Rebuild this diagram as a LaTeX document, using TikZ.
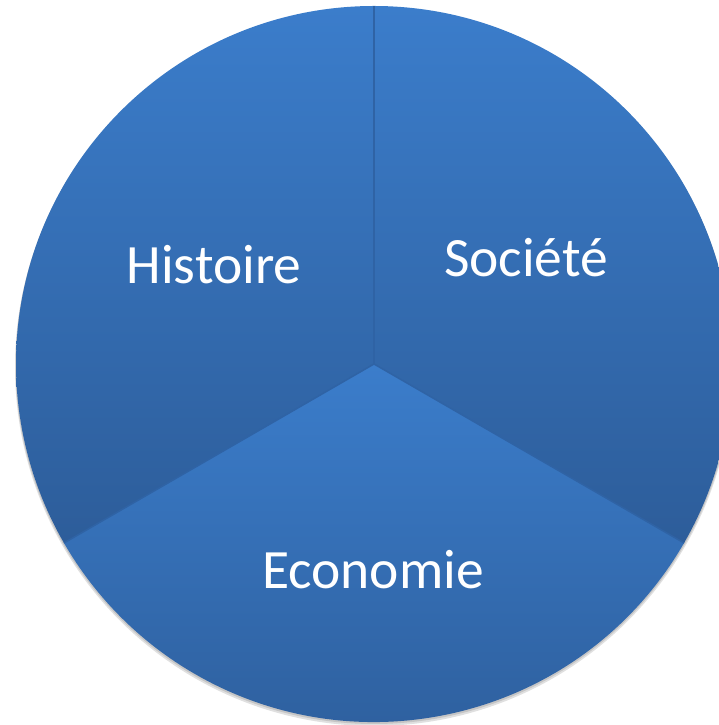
\documentclass[tikz,border=0pt]{standalone}
\usepackage{fontspec}
\setmainfont{Carlito}
\usepackage{tikz}
\usetikzlibrary{calc}

\definecolor{slicetop}{HTML}{3B7DCB}
\definecolor{slicebot}{HTML}{2D5D9A}
\definecolor{seam}{HTML}{2F63A5}

\tikzset{
  slice/.style={top color=slicetop, bottom color=slicebot},
  slicetext/.style={text=white, font=\fontsize{55.5}{64}\selectfont, inner sep=0pt}
}

\begin{document}
\begin{tikzpicture}[x=1pt,y=1pt]

 \useasboundingbox (0,0) rectangle (719,725);
 \clip (0,0) rectangle (719,725);

 \coordinate (c) at (374,361); % centre of the pie

% soft shadow under the rim
 \fill[black,opacity=0.12] ($(c)+(0,-3)$) circle (359);
 \fill[black,opacity=0.12] ($(c)+(0,-1.5)$) circle (358.5);

 \shade[slice] (c) -- ++(90:358) arc (90:-30:358) -- cycle; % Societe
 \shade[slice] (c) -- ++(-30:358) arc (-30:-150:358) -- cycle; % Economie
 \shade[slice] (c) -- ++(90:358) arc (90:210:358) -- cycle; % Histoire

% seams between the slices
 \draw[seam,line width=1.5pt] (c) -- ++(90:358);
 \draw[seam,line width=1.5pt] (c) -- ++(-30:358);
 \draw[seam,line width=1.5pt] (c) -- ++(210:358);

 \node[slicetext] (histoire) at (214,460) {Histoire};
 \node[slicetext] (societe) at (526,467) {Société};
 \node[slicetext] (economie) at (373,155) {Economie};

\end{tikzpicture}
\end{document}
